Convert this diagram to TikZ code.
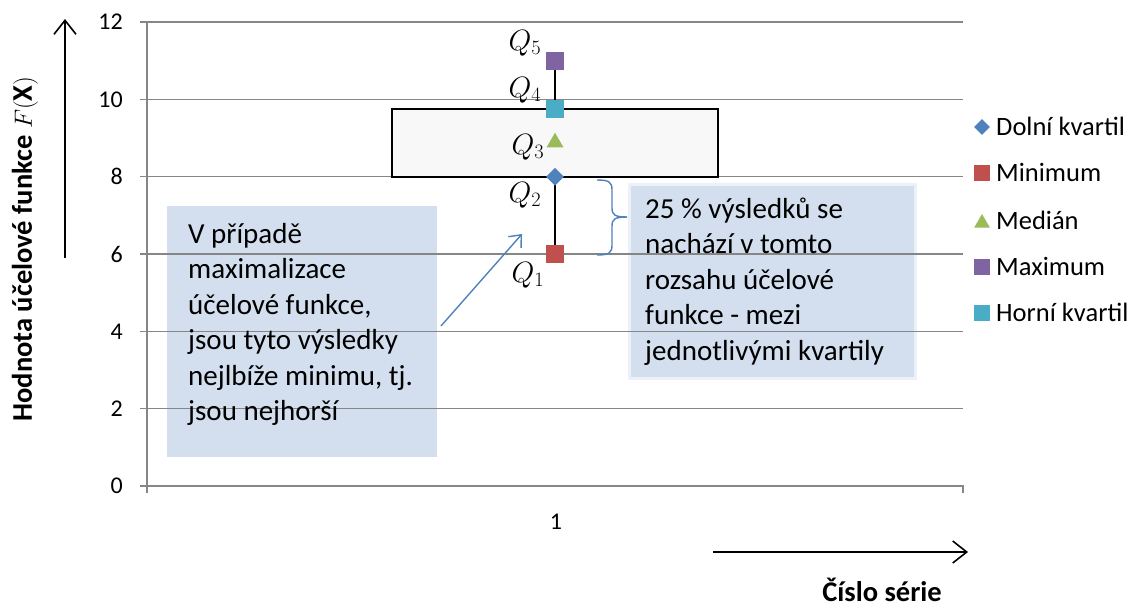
\documentclass[tikz,border=0pt]{standalone}
\usepackage{fontspec}
\setmainfont{Carlito}
\usetikzlibrary{arrows.meta,shapes.geometric}
\definecolor{gridgray}{RGB}{134,134,134}
\definecolor{noteblue}{RGB}{211,223,238}
\definecolor{linkblue}{RGB}{79,129,189}
\definecolor{lqblue}{RGB}{79,129,189}
\definecolor{minred}{RGB}{192,80,77}
\definecolor{medgreen}{RGB}{155,187,89}
\definecolor{maxpurple}{RGB}{128,100,162}
\definecolor{uqcyan}{RGB}{75,172,198}
\definecolor{boxfill}{RGB}{248,248,248}
\begin{document}
\begin{tikzpicture}[x=1pt,y=-1pt,
  grid/.style={draw=gridgray,line width=1.6pt},
  tick/.style={font=\fontsize{24}{28}\selectfont,anchor=east,inner sep=0pt},
  note/.style={fill=noteblue,inner sep=0pt,anchor=north west},
  notetext/.style={align=left,inner sep=0pt,anchor=base west,font=\fontsize{29}{35.5}\selectfont},
  legtext/.style={anchor=base west,inner sep=0pt,font=\fontsize{26.5}{30}\selectfont},
  sqmark/.style={rectangle,minimum size=#1,inner sep=0pt,draw=none},
  dimark/.style={diamond,aspect=1,minimum size=#1,inner sep=0pt,fill=lqblue},
  trimark/.style={regular polygon,regular polygon sides=3,minimum size=#1,inner sep=0pt,fill=medgreen},
  qlabel/.style={inner sep=0pt,font=\fontsize{24}{28}\selectfont,scale=1.18,transform shape},
  axtitle/.style={inner sep=0pt,font=\fontsize{28.5}{32}\selectfont\bfseries},
  bigarrow/.style={line width=1.6pt,-{Straight Barb[length=14pt,width=22pt,line width=1.6pt]}}]
\useasboundingbox (0,0) rectangle (1131,606);

% call-out panels (behind the grid)
\node[note,minimum width=270pt,minimum height=251pt] (leftnote) at (167,206) {};
\draw[noteblue,line width=6pt,opacity=0.45] (631,186) rectangle (914,377);
\node[note,minimum width=283pt,minimum height=191pt] (rightnote) at (631,186) {};

% value grid and axes
\foreach \v in {2,4,...,12}
  \draw[grid] (140,{486-38.667*\v}) -- (963,{486-38.667*\v});
\draw[grid] (147,22) -- (147,493);
\draw[grid] (140,486) -- (963,486) -- (963,493);
\foreach \v in {0,2,...,12}
  \node[tick] (t\v) at (123,{486-38.667*\v}) {\v};
\node[font=\fontsize{24}{28}\selectfont,inner sep=0pt] (cat) at (556,522) {1};

% whisker and box
\node[sqmark=18pt,fill=maxpurple] (qmax) at (555,61) {};
\node[sqmark=18pt,fill=minred] (qmin) at (555,254) {};
\draw[line width=1.5pt] (qmax) -- (qmin);
\node[draw=black,line width=1.6pt,fill=boxfill,minimum width=326pt,minimum height=67.7pt,inner sep=0pt] (iqr) at (555,142.85) {};
\node[sqmark=18pt,fill=uqcyan] (quq) at (555,109) {};
\node[trimark=19.6pt] (qmed) at (555,142.5) {};
\node[dimark=18pt] (qlq) at (555,176.7) {};
\node[sqmark=18pt,fill=maxpurple] at (555,61) {};
\node[sqmark=18pt,fill=minred] at (555,254) {};

% quantile labels
\node[qlabel] (l5) at (525,43) {$Q_5$};
\node[qlabel] (l4) at (525,90) {$Q_4$};
\node[qlabel] (l3) at (528,147) {$Q_3$};
\node[qlabel] (l2) at (525,195) {$Q_2$};
\node[qlabel] (l1) at (528,275) {$Q_1$};

% call-out texts (anchored on the baseline of their last line)
\node[notetext] (lefttext) at (188,420.5) {V případě\\maximalizace\\účelové funkce,\\jsou tyto výsledky\\nejlbíže minimu, tj.\\jsou nejhorší};
\node[notetext] (righttext) at (645,360) {25 \% výsledků se\\nachází v tomto\\rozsahu účelové\\funkce - mezi\\jednotlivými kvartily};

% pointer from the left note
\coordinate (ptr) at (522,234);
\draw[linkblue,line width=1.4pt,-{Straight Barb[length=10pt,width=17pt,line width=1.4pt]}] (441,326) -- (ptr);

% brace spanning Q1 to Q2
\coordinate (btop) at (597,180);
\coordinate (bbot) at (597,255);
\coordinate (btip) at (627,217);
\draw[linkblue,line width=1.4pt] (btop) .. controls (609,180) and (612,182) .. (612,190)
  -- (612,208) .. controls (612,215) and (615,217) .. (btip);
\draw[linkblue,line width=1.4pt] (bbot) .. controls (609,255) and (612,253) .. (612,245)
  -- (612,226) .. controls (612,219) and (615,217) .. (btip);

% legend
\node[dimark=16pt] (kd) at (982,127) {};
\node[legtext] (ld) at (996,135.5) {Dolní kvartil};
\node[sqmark=16pt,fill=minred] (kmin) at (982,173) {};
\node[legtext] (lmin) at (996,181.5) {Minimum};
\node[trimark=18pt] (kmed) at (982,223) {};
\node[legtext] (lmed) at (996,229.5) {Medián};
\node[sqmark=16pt,fill=maxpurple] (kmax) at (982,267) {};
\node[legtext] (lmax) at (996,275.5) {Maximum};
\node[sqmark=16pt,fill=uqcyan] (kuq) at (982,313) {};
\node[legtext] (luq) at (996,321.5) {Horní kvartil};

% axis titles with direction arrows
\coordinate (ya0) at (65,258);
\coordinate (ya1) at (65,19);
\draw[bigarrow] (ya0) -- (ya1);
\coordinate (xa0) at (713,552);
\coordinate (xa1) at (968,552);
\draw[bigarrow] (xa0) -- (xa1);
\node[axtitle,rotate=90] (ytitle) at (25,249) {Hodnota účelové funkce $F(\mathbf{X})$};
\node[axtitle,anchor=base] (xtitle) at (882,601) {Číslo série};
\end{tikzpicture}
\end{document}
